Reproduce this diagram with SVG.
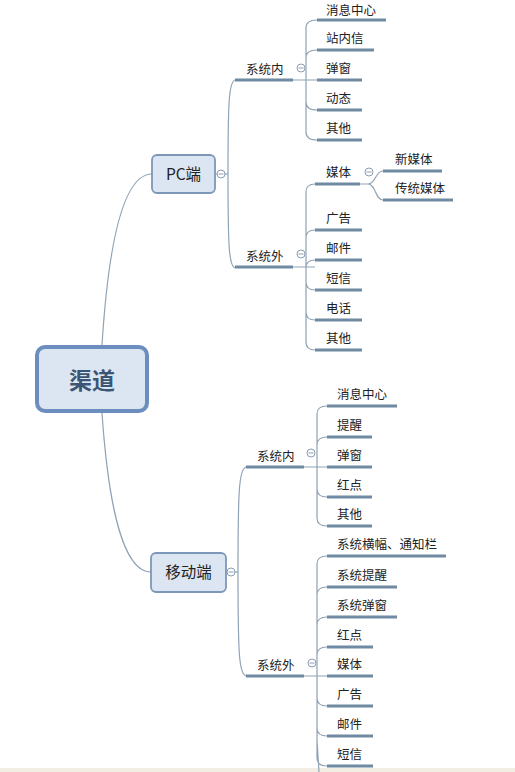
<svg xmlns="http://www.w3.org/2000/svg" width="515" height="772" viewBox="0 0 515 772">
<style>
.t{font-family:"Noto Sans CJK SC","Liberation Sans",sans-serif;font-size:12.5px;fill:#222}
.tn{font-family:"Noto Sans CJK SC","Liberation Sans",sans-serif;font-size:15.5px;fill:#222;text-anchor:middle}
.c{fill:none;stroke:#8ea3b6;stroke-width:1.2}
.u{fill:none;stroke:#6f8aa2;stroke-width:3}
.k{fill:#fff;stroke:#8c9db2;stroke-width:1}
.km{stroke:#8c9db2;stroke-width:1}
.n{fill:#dce6f2;stroke:#7d97b8;stroke-width:1.8}
</style>
<rect x="0" y="0" width="515" height="772" fill="#fff"/>
<rect x="0" y="768" width="515" height="4" fill="#f2eee3"/>
<g id="connectors">
<path class="c" d="M102,345 C108,250 122,174 152,174"/>
<path class="c" d="M102,413 C108,500 122,572 151,572"/>
<path class="c" d="M215,174 L228,174"/>
<path class="c" d="M235,80 C229,82 228,100 228,174 C228,248 229,266 235,268"/>
<path class="c" d="M226,572 L238,572"/>
<path class="c" d="M246,467 C239,469 238,490 238,572 C238,654 239,674 246,676"/>
<path class="c" d="M293,80 L317,80 M306,80 L306,28 Q306,20 317,20 M306,80 L306,58 Q306,50 317,50 M306,80 L306,102 Q306,110 317,110 M306,80 L306,132 Q306,140 317,140"/>
<path class="c" d="M293,267 L315,267 M306,267 L306,192 Q306,184 315,184 M306,267 L306,238 Q306,230 315,230 M306,267 L306,268 Q306,260 315,260 M306,267 L306,282 Q306,290 315,290 M306,267 L306,312 Q306,320 315,320 M306,267 L306,342 Q306,350 315,350"/>
<path class="c" d="M360,184 L368,184 C376,184 375,171 383,171 M368,184 C376,184 375,200 383,200"/>
<path class="c" d="M304,467 L327,467 M317,467 L317,414 Q317,406 327,406 M317,467 L317,445 Q317,437 327,437 M317,467 L317,489 Q317,497 327,497 M317,467 L317,518 Q317,526 327,526"/>
<path class="c" d="M304,676 L327,676 M317,676 L317,564 Q317,556 327,556 M317,676 L317,595 Q317,587 327,587 M317,676 L317,625 Q317,617 327,617 M317,676 L317,655 Q317,647 327,647 M317,676 L317,698 Q317,706 327,706 M317,676 L317,728 Q317,736 327,736 M317,676 L317,758 Q317,766 327,766 M317,740 L319,772"/>
</g>
<g id="root">
<rect x="37" y="347" width="110" height="64" rx="8" fill="#dce6f2" stroke="#6c8ebf" stroke-width="4"/>
<text x="92" y="389" font-family="'Noto Sans CJK SC','Liberation Sans',sans-serif" font-size="23" font-weight="bold" fill="#3b5575" text-anchor="middle">渠道</text>
</g>
<g id="pc">
<rect class="n" x="152" y="155" width="63" height="38" rx="5"/>
<text class="tn" x="183.5" y="180">PC端</text>
<circle class="k" cx="221" cy="174" r="4"/><line class="km" x1="218.5" y1="174" x2="223.5" y2="174"/>
</g>
<g id="mobile">
<rect class="n" x="151" y="553" width="75" height="39" rx="5"/>
<text class="tn" x="188.5" y="578">移动端</text>
<circle class="k" cx="231" cy="572" r="4"/><line class="km" x1="228.5" y1="572" x2="233.5" y2="572"/>
</g>
<g id="pc-in">
<line class="u" x1="235" y1="80" x2="293" y2="80"/>
<text class="t" x="246" y="74">系统内</text>
<circle class="k" cx="301" cy="68" r="4"/><line class="km" x1="298.5" y1="68" x2="303.5" y2="68"/>
</g>
<g id="pc-in-leaves">
<line class="u" x1="317" y1="20" x2="386" y2="20"/><text class="t" x="326" y="14.5">消息中心</text>
<line class="u" x1="317" y1="50" x2="374" y2="50"/><text class="t" x="326" y="43">站内信</text>
<line class="u" x1="317" y1="80" x2="362" y2="80"/><text class="t" x="326" y="73">弹窗</text>
<line class="u" x1="317" y1="110" x2="362" y2="110"/><text class="t" x="326" y="103">动态</text>
<line class="u" x1="317" y1="140" x2="362" y2="140"/><text class="t" x="326" y="133">其他</text>
</g>
<g id="pc-out">
<line class="u" x1="235" y1="267" x2="293" y2="267"/>
<text class="t" x="246" y="261">系统外</text>
<circle class="k" cx="301" cy="254" r="4"/><line class="km" x1="298.5" y1="254" x2="303.5" y2="254"/>
</g>
<g id="pc-out-leaves">
<line class="u" x1="315" y1="184" x2="360" y2="184"/><text class="t" x="326" y="177">媒体</text>
<circle class="k" cx="369" cy="172" r="4"/><line class="km" x1="366.5" y1="172" x2="371.5" y2="172"/>
<line class="u" x1="383" y1="171" x2="442" y2="171"/><text class="t" x="395" y="164">新媒体</text>
<line class="u" x1="383" y1="200" x2="453" y2="200"/><text class="t" x="395" y="193">传统媒体</text>
<line class="u" x1="315" y1="230" x2="362" y2="230"/><text class="t" x="326" y="223">广告</text>
<line class="u" x1="315" y1="260" x2="362" y2="260"/><text class="t" x="326" y="253">邮件</text>
<line class="u" x1="315" y1="290" x2="362" y2="290"/><text class="t" x="326" y="283">短信</text>
<line class="u" x1="315" y1="320" x2="362" y2="320"/><text class="t" x="326" y="313">电话</text>
<line class="u" x1="315" y1="350" x2="362" y2="350"/><text class="t" x="326" y="343">其他</text>
</g>
<g id="m-in">
<line class="u" x1="246" y1="467" x2="304" y2="467"/>
<text class="t" x="257" y="461">系统内</text>
<circle class="k" cx="311" cy="453" r="4"/><line class="km" x1="308.5" y1="453" x2="313.5" y2="453"/>
</g>
<g id="m-in-leaves">
<line class="u" x1="327" y1="406" x2="397" y2="406"/><text class="t" x="337" y="399">消息中心</text>
<line class="u" x1="327" y1="437" x2="372" y2="437"/><text class="t" x="337" y="430">提醒</text>
<line class="u" x1="327" y1="467" x2="372" y2="467"/><text class="t" x="337" y="460">弹窗</text>
<line class="u" x1="327" y1="497" x2="372" y2="497"/><text class="t" x="337" y="490">红点</text>
<line class="u" x1="327" y1="526" x2="372" y2="526"/><text class="t" x="337" y="519">其他</text>
</g>
<g id="m-out">
<line class="u" x1="246" y1="676" x2="304" y2="676"/>
<text class="t" x="257" y="670">系统外</text>
<circle class="k" cx="312" cy="663" r="4"/><line class="km" x1="309.5" y1="663" x2="314.5" y2="663"/>
</g>
<g id="m-out-leaves">
<line class="u" x1="327" y1="556" x2="446" y2="556"/><text class="t" x="337" y="549">系统横幅、通知栏</text>
<line class="u" x1="327" y1="587" x2="397" y2="587"/><text class="t" x="337" y="580">系统提醒</text>
<line class="u" x1="327" y1="617" x2="397" y2="617"/><text class="t" x="337" y="610">系统弹窗</text>
<line class="u" x1="327" y1="647" x2="373" y2="647"/><text class="t" x="337" y="640">红点</text>
<line class="u" x1="327" y1="676" x2="373" y2="676"/><text class="t" x="337" y="669">媒体</text>
<line class="u" x1="327" y1="706" x2="373" y2="706"/><text class="t" x="337" y="699">广告</text>
<line class="u" x1="327" y1="736" x2="373" y2="736"/><text class="t" x="337" y="729">邮件</text>
<line class="u" x1="327" y1="766" x2="373" y2="766"/><text class="t" x="337" y="759">短信</text>
</g>
</svg>
